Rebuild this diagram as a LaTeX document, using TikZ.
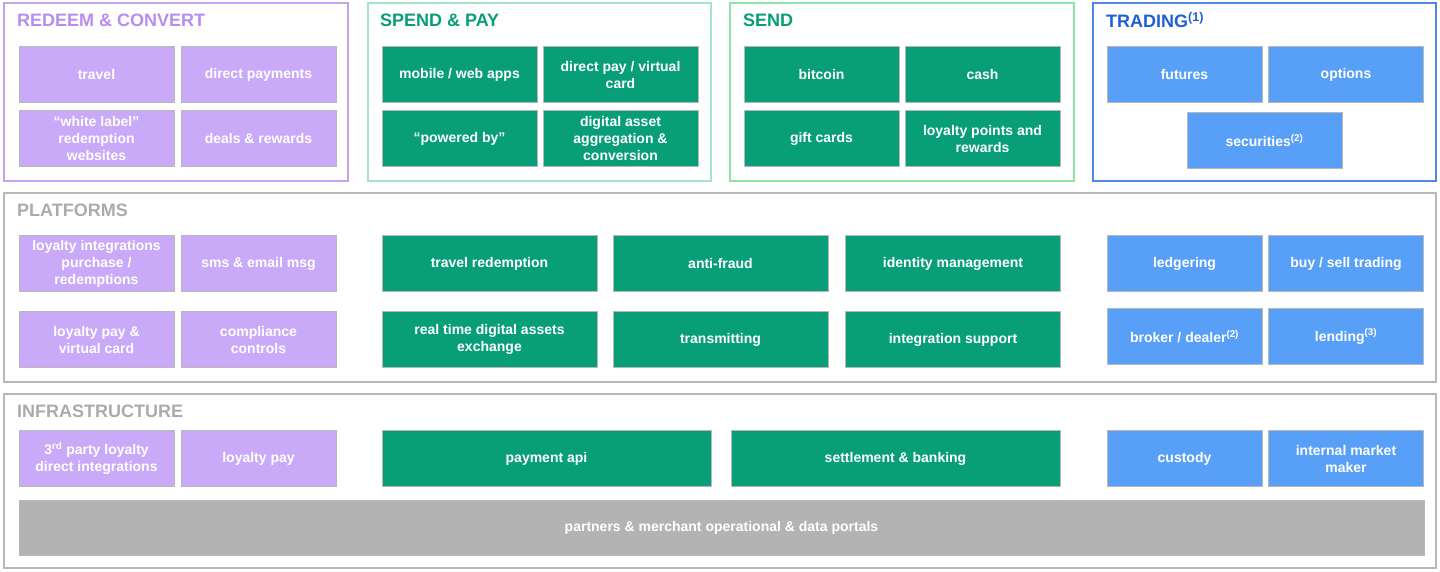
\documentclass[tikz,border=0pt]{standalone}
\usepackage{fontspec}
\setmainfont{Liberation Sans}
\definecolor{lilac}{HTML}{C9AAF8}
\definecolor{lilacline}{HTML}{C6A4F4}
\definecolor{lilactext}{HTML}{B88CF0}
\definecolor{jade}{HTML}{089E78}
\definecolor{jadeline}{HTML}{A3E4CB}
\definecolor{sendline}{HTML}{8CE4A6}
\definecolor{sky}{HTML}{58A0F7}
\definecolor{skyline}{HTML}{4F88E2}
\definecolor{skytext}{HTML}{1F5FD6}
\definecolor{frameline}{HTML}{B8B8B8}
\definecolor{frametext}{HTML}{ABABAB}
\definecolor{portal}{HTML}{B3B3B3}
\tikzset{
    tile/.style={draw=black!28, line width=0.9pt, text=white, align=center,
        minimum width=155, minimum height=56, inner sep=1pt,
        font=\fontsize{14}{17}\selectfont\bfseries},
    ptile/.style={tile, fill=lilac},
    gtile/.style={tile, fill=jade},
    btile/.style={tile, fill=sky},
    frame/.style={line width=1.5pt},
    heading/.style={anchor=west, inner sep=0pt, font=\fontsize{18}{20}\selectfont\bfseries}
}
\begin{document}
\begin{tikzpicture}[x=1pt, y=-1pt]
    \useasboundingbox(0, 0)rectangle(1440, 571);

    % top frames
    \draw[frame, lilacline](4, 3)rectangle(348, 181);
    \draw[frame, jadeline](368, 3)rectangle(711, 181);
    \draw[frame, sendline](730, 3)rectangle(1074, 181);
    \draw[frame, skyline](1093, 3)rectangle(1436, 181);
    \node[heading, lilactext](redeem)at(17, 20){REDEEM \& CONVERT};
    \node[heading, jade](spend)at(380, 20){SPEND \& PAY};
    \node[heading, jade](send)at(743, 20){SEND};
    \node[heading, skytext](trading)at(1106, 20){TRADING\textsuperscript{(1)}};

    \node[ptile](travel)at(96.5, 74.5){travel};
    \node[ptile](directpay)at(258.5, 74.5){direct payments};
    \node[ptile](whitelabel)at(96.5, 138.5){“white label”\\redemption\\websites};
    \node[ptile](deals)at(258.5, 138.5){deals \& rewards};

    \node[gtile](apps)at(459.5, 74.5){mobile / web apps};
    \node[gtile](virtual)at(620.5, 74.5){direct pay / virtual\\card};
    \node[gtile](powered)at(459.5, 138.5){“powered by”};
    \node[gtile](aggregation)at(620.5, 138.5){digital asset\\aggregation \&\\conversion};

    \node[gtile](bitcoin)at(821.5, 74.5){bitcoin};
    \node[gtile](cash)at(982.5, 74.5){cash};
    \node[gtile](giftcards)at(821.5, 138.5){gift cards};
    \node[gtile](points)at(982.5, 138.5){loyalty points and\\rewards};

    \node[btile](futures)at(1184.5, 74.5){futures};
    \node[btile](options)at(1346, 74.5){options};
    \node[btile](securities)at(1264.5, 140.5){securities\textsuperscript{(2)}};

    % platforms
    \draw[frame, frameline](4, 193)rectangle(1436, 382);
    \node[heading, frametext](platforms)at(17, 210){PLATFORMS};

    \node[ptile](integrations)at(96.5, 263.5){loyalty integrations\\purchase /\\redemptions};
    \node[ptile](sms)at(258.5, 263.5){sms \& email msg};
    \node[ptile](loyaltycard)at(96.5, 339.5){loyalty pay \&\\virtual card};
    \node[ptile](compliance)at(258.5, 339.5){compliance\\controls};

    \node[gtile, minimum width=215](travelred)at(489.5, 263.5){travel redemption};
    \node[gtile, minimum width=215](antifraud)at(720.5, 263.5){anti-fraud};
    \node[gtile, minimum width=215](identity)at(953, 263.5){identity management};
    \node[gtile, minimum width=215](exchange)at(489.5, 339.5){real time digital assets\\exchange};
    \node[gtile, minimum width=215](transmitting)at(720.5, 339.5){transmitting};
    \node[gtile, minimum width=215](support)at(953, 339.5){integration support};

    \node[btile](ledgering)at(1184.5, 263.5){ledgering};
    \node[btile](buysell)at(1346, 263.5){buy / sell trading};
    \node[btile](broker)at(1184.5, 336.5){broker / dealer\textsuperscript{(2)}};
    \node[btile](lending)at(1346, 336.5){lending\textsuperscript{(3)}};

    % infrastructure
    \draw[frame, frameline](4, 394)rectangle(1436, 568);
    \node[heading, frametext](infrastructure)at(17, 411){INFRASTRUCTURE};

    \node[ptile](thirdparty)at(96.5, 458.5){3\textsuperscript{rd} party loyalty\\direct integrations};
    \node[ptile](loyaltypay)at(258.5, 458.5){loyalty pay};
    \node[gtile, minimum width=329](paymentapi)at(546.5, 458.5){payment api};
    \node[gtile, minimum width=329](settlement)at(895.5, 458.5){settlement \& banking};
    \node[btile](custody)at(1184.5, 458.5){custody};
    \node[btile](marketmaker)at(1346, 458.5){internal market\\maker};
    \node[tile, fill=portal, minimum width=1405, minimum height=55](portals)at(721.5, 527.5){partners \& merchant operational \& data portals};
\end{tikzpicture}
\end{document}
